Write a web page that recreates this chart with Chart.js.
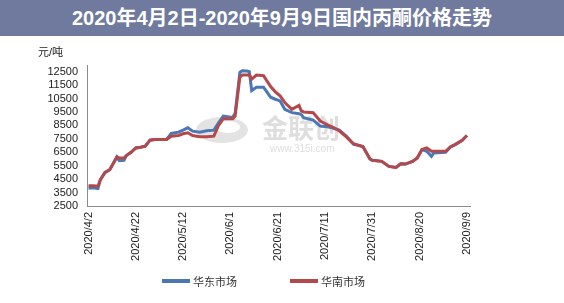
<!DOCTYPE html>
<html><head><meta charset="utf-8">
<script src="https://cdn.jsdelivr.net/npm/chart.js@4/dist/chart.umd.min.js"></script>
<style>
html,body{margin:0;padding:0;background:#fff;}
#wrap{position:relative;width:564px;height:303px;overflow:hidden;}
#banner{position:absolute;left:0;top:0;width:564px;height:36px;background:#6f7a9e;color:#fff;
 font:bold 20px "Liberation Sans","Noto Sans CJK SC",sans-serif;text-align:center;line-height:36px;}
#unit{position:absolute;left:38px;top:43px;font:11px "Liberation Sans","Noto Sans CJK SC",sans-serif;color:#222;}
#c{position:absolute;left:0;top:0;}
.lg{position:absolute;top:273px;font:11px "Noto Sans CJK SC",sans-serif;color:#333;display:flex;align-items:center;}
.lg span.b{display:inline-block;width:28px;height:4px;margin-right:3px;}
</style></head>
<body>
<div id="wrap">
<canvas id="c" width="564" height="303"></canvas>
<div id="banner">2020年4月2日-2020年9月9日国内丙酮价格走势</div>
<div id="unit">元/吨</div>
<div id="legend"></div>
</div>
<script>
// day offsets from 2020/4/2
const days = [0,2,4,5,7,9,12,13,15,16,18,20,22,24,26,28,33,35,38,40,42,44,47,50,53,55,57,61,62,64,65,67,68,69,71,74,77,79,81,83,86,89,90,91,95,98,101,103,106,109,112,116,119,120,124,127,130,132,134,137,139,141,143,145,146,151,153,155,158,160];
const eastChina = [3825,3850,3800,4450,5000,5200,6150,5875,5900,6250,6500,6825,6875,6950,7400,7450,7450,7900,8000,8150,8325,8075,8000,8100,8150,8700,9200,9100,9400,12450,12575,12550,12500,11100,11350,11350,10600,10450,10325,9700,9450,9375,9300,9075,8900,8450,8400,8325,8150,7700,7100,6925,6000,5900,5825,5450,5375,5650,5625,5825,6075,6700,6575,6200,6450,6500,6900,7075,7400,7750];
const southChina = [4000,4000,3975,4450,5000,5200,6150,6075,6075,6250,6500,6825,6875,6950,7400,7450,7450,7700,7750,7875,7950,7750,7650,7650,7700,8500,9000,9000,9200,12100,12250,12250,12250,11950,12250,12200,11400,11000,10700,10200,9700,10000,9575,9500,9450,8825,8550,8400,8100,7650,7150,6925,6000,5900,5825,5450,5375,5650,5625,5825,6075,6700,6825,6575,6575,6575,6900,7075,7400,7750];
const seriesNames = ['华东市场','华南市场'];
const xTickDays = [0,20,40,60,80,100,120,140,160];
const xTickLabels = ['2020/4/2','2020/4/22','2020/5/12','2020/6/1','2020/6/21','2020/7/11','2020/7/31','2020/8/20','2020/9/9'];
const yTickValues = [2500,3500,4500,5500,6500,7500,8500,9500,10500,11500,12500];

const colors = ['#4a78b6','#b4494b'];
const toPts = vals => days.map((d,i)=>({x:d,y:vals[i]}));

const watermark = {
  id:'wm',
  beforeDatasetsDraw(chart){
    const c = chart.ctx;
    c.save();
    c.fillStyle = '#e3e3e3';
    c.beginPath(); c.ellipse(222,130,26,13,0,0,Math.PI*2); c.fill();
    c.fillStyle = '#ffffff';
    c.beginPath(); c.ellipse(228,127,12,6,0,0,Math.PI*2); c.fill();
    c.fillStyle = '#dedede';
    c.font = 'bold 26px "Noto Sans CJK SC",sans-serif';
    c.textBaseline = 'middle';
    c.fillText('金联创', 262, 128);
    c.font = '10px "Liberation Sans",sans-serif';
    c.fillText('www.315i.com', 270, 149);
    c.restore();
  }
};

const font = {family:'"Liberation Sans", Arial, sans-serif', size:11};
const chart = new Chart(document.getElementById('c'), {
  type:'line',
  data:{datasets:[
    {label:seriesNames[0], data:toPts(eastChina), borderColor:colors[0], borderWidth:3, pointRadius:0, tension:0, fill:false, order:1},
    {label:seriesNames[1], data:toPts(southChina), borderColor:colors[1], borderWidth:3, pointRadius:0, tension:0, fill:false, order:0}
  ]},
  options:{
    animation:false, responsive:false, devicePixelRatio:1,
    layout:{padding:{left:0,right:94,top:65,bottom:0}},
    plugins:{legend:{display:false}, tooltip:{enabled:false}},
    scales:{
      x:{type:'linear', min:-0.63, max:161.3,
        grid:{display:false, drawTicks:false},
        border:{display:true,color:'#8c8c8c',width:1},
        afterBuildTicks(s){ s.ticks = xTickDays.map(v=>({value:v})); },
        afterFit(s){ s.height = 97; },
        ticks:{font, color:'#222', minRotation:90, maxRotation:90, padding:6, autoSkip:false,
          callback:(v)=>{const i=xTickDays.indexOf(v); return i>=0?xTickLabels[i]:'';}}
      },
      y:{min:2500, max:13000,
        grid:{display:false, drawTicks:false},
        border:{display:true,color:'#8c8c8c',width:1},
        afterBuildTicks(s){ s.ticks = yTickValues.map(v=>({value:v})); },
        afterFit(s){ s.width = 87; },
        ticks:{font, color:'#222', padding:9, autoSkip:false, callback:v=>String(v)}
      }
    }
  },
  plugins:[watermark]
});

// legend built from datasets
const lg = document.getElementById('legend');
const lgX = [162, 290];
chart.data.datasets.forEach((ds,i)=>{
  const d = document.createElement('div');
  d.className='lg'; d.style.left = lgX[i]+'px';
  d.innerHTML = '<span class="b" style="background:'+ds.borderColor+'"></span>'+ds.label;
  lg.appendChild(d);
});
</script>
</body></html>
